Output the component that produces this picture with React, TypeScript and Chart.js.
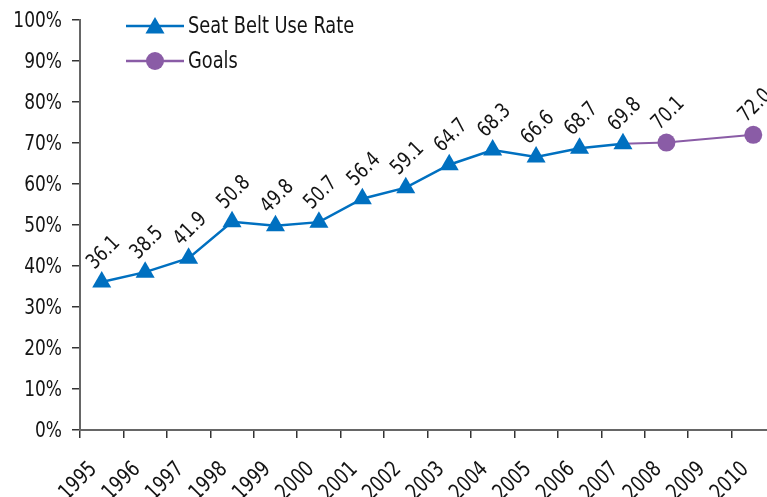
import React, { useEffect, useRef } from "react";
import { Chart, registerables } from "chart.js";

Chart.register(...registerables);

const years = [
  "1995", "1996", "1997", "1998", "1999", "2000", "2001", "2002",
  "2003", "2004", "2005", "2006", "2007", "2008", "2009", "2010",
];
const useRate: (number | null)[] = [
  36.1, 38.5, 41.9, 50.8, 49.8, 50.7, 56.4, 59.1, 64.7, 68.3, 66.6, 68.7, 69.8,
  null, null, null,
];
// Goals line joins on from the last observed rate (2007), then 2008 and 2010.
const goals: (number | null)[] = [
  null, null, null, null, null, null, null, null, null, null, null, null,
  69.8, 70.1, null, 72.0,
];
const goalMarker = [0, 0, 0, 0, 0, 0, 0, 0, 0, 0, 0, 0, 0, 9, 0, 9];
const yTicks = [0, 10, 20, 30, 40, 50, 60, 70, 80, 90, 100];

const BLUE = "#0070C0";
const PURPLE = "#8A5CA6";
const INK = "#141414";
const FONT = "'DejaVu Sans Condensed', 'DejaVu Sans', sans-serif";

// Draws text squeezed horizontally to get a tall, narrow face.
function narrowText(
  ctx: CanvasRenderingContext2D,
  text: string,
  x: number,
  y: number,
  size: number,
  squeeze: number,
  align: CanvasTextAlign,
  angle = 0
) {
  ctx.save();
  ctx.translate(x, y);
  if (angle) ctx.rotate(angle);
  ctx.scale(squeeze, 1);
  ctx.font = `${size}px ${FONT}`;
  ctx.fillStyle = INK;
  ctx.textAlign = align;
  ctx.textBaseline = "middle";
  ctx.fillText(text, 0, 0);
  ctx.restore();
}

const axisText = {
  id: "axisText",
  afterDraw(chart: any) {
    const ctx = chart.ctx;
    const xs = chart.scales.x;
    const ys = chart.scales.y;
    yTicks.forEach((v) => {
      narrowText(ctx, `${v}%`, ys.right - 18, ys.getPixelForValue(v) + 1, 22, 0.86, "right");
    });
    years.forEach((label, i) => {
      const x = xs.getPixelForValue(i);
      narrowText(ctx, label, x - 8, xs.top + 36, 22, 0.86, "right", -Math.PI / 4);
    });
  },
};

const valueLabels = {
  id: "valueLabels",
  afterDatasetsDraw(chart: any) {
    const ctx = chart.ctx;
    chart.data.datasets.forEach((ds: any, di: number) => {
      const meta = chart.getDatasetMeta(di);
      meta.data.forEach((pt: any, i: number) => {
        const v = ds.data[i];
        if (v == null) return;
        const r = Array.isArray(ds.pointRadius) ? ds.pointRadius[i] : ds.pointRadius;
        if (!r) return;
        narrowText(ctx, v.toFixed(1), pt.x + 2, pt.y - 29, 21, 0.88, "center", -Math.PI / 4);
      });
    });
  },
};

const sideLegend = {
  id: "sideLegend",
  afterDraw(chart: any) {
    const ctx = chart.ctx;
    const items = [
      { text: "Seat Belt Use Rate", color: BLUE, style: "triangle", y: 26, r: 11 },
      { text: "Goals", color: PURPLE, style: "circle", y: 61, r: 9 },
    ];
    items.forEach((it) => {
      ctx.save();
      ctx.strokeStyle = it.color;
      ctx.lineWidth = 2.5;
      ctx.beginPath();
      ctx.moveTo(126, it.y);
      ctx.lineTo(184, it.y);
      ctx.stroke();
      ctx.fillStyle = it.color;
      ctx.beginPath();
      if (it.style === "circle") {
        ctx.arc(155, it.y, it.r, 0, Math.PI * 2);
      } else {
        const cy = it.y + 2;
        ctx.moveTo(155, cy - it.r);
        ctx.lineTo(155 + it.r * 0.866, cy + it.r * 0.5);
        ctx.lineTo(155 - it.r * 0.866, cy + it.r * 0.5);
        ctx.closePath();
      }
      ctx.fill();
      ctx.restore();
      narrowText(ctx, it.text, 188, it.y + 1, 23, 0.86, "left");
    });
  },
};

export default function App() {
  const ref = useRef<HTMLCanvasElement | null>(null);

  useEffect(() => {
    if (!ref.current) return;
    const chart = new Chart(ref.current, {
      type: "line",
      data: {
        labels: years,
        datasets: [
          {
            label: "Seat Belt Use Rate",
            data: useRate,
            borderColor: BLUE,
            backgroundColor: BLUE,
            borderWidth: 2.5,
            pointStyle: "triangle",
            pointRadius: 11,
            pointBorderWidth: 0,
            tension: 0,
            order: 1,
          },
          {
            label: "Goals",
            data: goals,
            borderColor: PURPLE,
            backgroundColor: PURPLE,
            borderWidth: 2,
            pointStyle: "circle",
            pointRadius: goalMarker,
            pointBorderWidth: 0,
            spanGaps: true,
            tension: 0,
            order: 2,
          },
        ],
      },
      options: {
        responsive: false,
        animation: false,
        devicePixelRatio: 1,
        layout: { padding: { top: 20, right: 6, left: 0, bottom: 0 } },
        plugins: {
          legend: { display: false },
          tooltip: { enabled: false },
        },
        scales: {
          x: {
            offset: true,
            grid: {
              offset: true,
              drawOnChartArea: false,
              drawTicks: true,
              tickLength: 8,
              color: "#333",
              lineWidth: 1.5,
            },
            border: { color: "#666", width: 2 },
            ticks: { display: false, autoSkip: false },
            afterFit(scale: any) {
              scale.height = 67;
              scale.paddingLeft = 0;
              scale.paddingRight = 0;
            },
          },
          y: {
            min: 0,
            max: 100,
            grid: {
              drawOnChartArea: false,
              drawTicks: true,
              tickLength: 8,
              color: "#333",
              lineWidth: 1.5,
            },
            border: { color: "#666", width: 2 },
            ticks: { display: false, stepSize: 10 },
            afterFit(scale: any) {
              scale.width = 80;
              scale.paddingTop = 0;
              scale.paddingBottom = 0;
            },
          },
        },
      },
      plugins: [valueLabels, sideLegend, axisText],
    });
    return () => chart.destroy();
  }, []);

  return (
    <div
      style={{
        position: "fixed",
        left: 0,
        top: 0,
        width: 767,
        height: 497,
        overflow: "hidden",
        background: "#fff",
      }}
    >
      <canvas ref={ref} width={786} height={497} />
    </div>
  );
}
